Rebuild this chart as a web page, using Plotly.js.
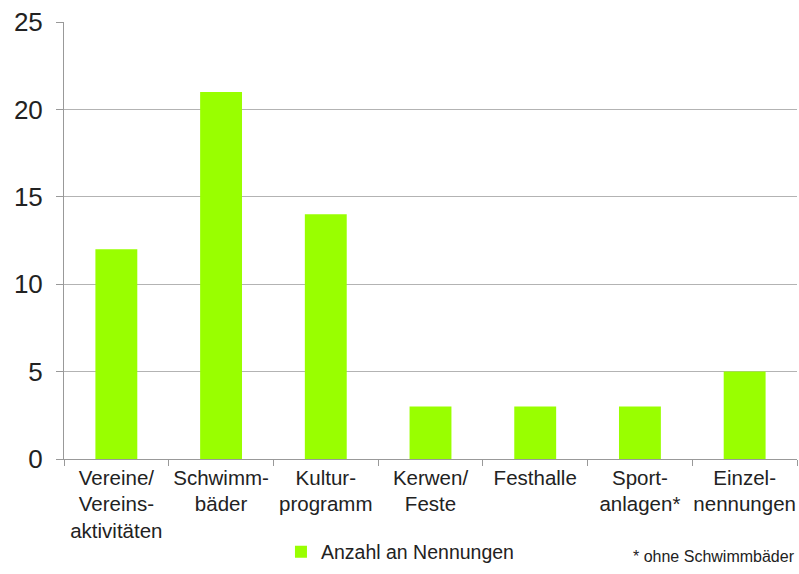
<!DOCTYPE html>
<html>
<head>
<meta charset="utf-8">
<script src="https://cdn.plot.ly/plotly-3.0.1.min.js"></script>
<style>html,body{margin:0;padding:0;background:#fff;}#chart{width:799px;height:574px;}</style>
</head>
<body>
<div id="chart"></div>
<script>
const categories = ["Vereine/<br>Vereins-<br>aktivitäten", "Schwimm-<br>bäder", "Kultur-<br>programm", "Kerwen/<br>Feste", "Festhalle", "Sport-<br>anlagen*", "Einzel-<br>nennungen"];
const values = [12, 21, 14, 3, 3, 3, 5];
const seriesName = "Anzahl an Nennungen";
const yTicks = [0, 5, 10, 15, 20, 25];
const footnote = "* ohne Schwimmbäder";

const trace = {
  type: "bar",
  x: categories,
  y: values,
  name: seriesName,
  marker: {color: "#99ff00"},
  width: 0.4,
  showlegend: true
};

const layout = {
  width: 799, height: 574,
  margin: {l: 64, r: 2, t: 22, b: 115},
  paper_bgcolor: "#fff", plot_bgcolor: "#fff",
  font: {family: "Liberation Sans, Arial, sans-serif", color: "#222"},
  xaxis: {
    type: "category",
    tickson: "boundaries",
    tickangle: 0,
    automargin: false,
    ticks: "outside", ticklen: 6, tickcolor: "#999",
    showline: true, linecolor: "#999", linewidth: 1,
    showgrid: false,
    tickfont: {size: 20.5, color: "#222"},
    fixedrange: true
  },
  yaxis: {
    range: [0, 25],
    tickvals: yTicks,
    ticks: "outside", ticklen: 7, tickcolor: "#999",
    showline: true, linecolor: "#999", linewidth: 1,
    showgrid: true, gridcolor: "#b3b3b3", gridwidth: 1,
    zeroline: false,
    tickfont: {size: 26, color: "#222"},
    ticklabelstandoff: 8
  },
  showlegend: true,
  legend: {
    orientation: "h", x: 0.296, xanchor: "left", y: -0.213, yanchor: "middle",
    itemwidth: 30,
    font: {size: 19.5, color: "#222"}
  },
  annotations: [{
    text: footnote, xref: "paper", yref: "paper", x: 1, y: -0.222,
    xanchor: "right", yanchor: "middle", showarrow: false,
    font: {size: 16, color: "#222"}
  }],
  bargap: 0.6
};

Plotly.newPlot("chart", [trace], layout, {displayModeBar: false, staticPlot: true});
</script>
</body>
</html>
